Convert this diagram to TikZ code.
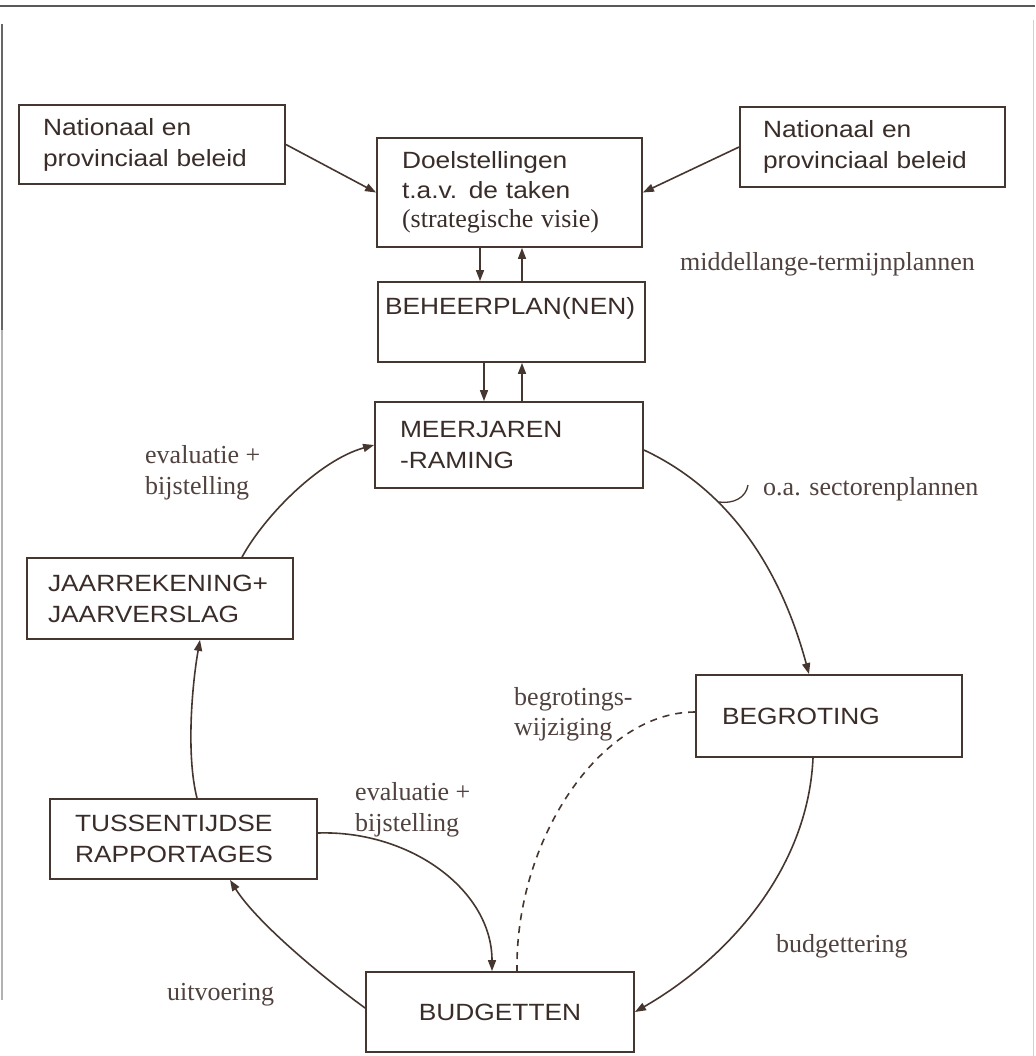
\documentclass[tikz,border=0pt]{standalone}
\usepackage{fontspec}
\setmainfont{Liberation Serif}
\newfontfamily\boxfont{Liberation Sans}[FakeStretch=1.12]
\usetikzlibrary{arrows.meta}
\definecolor{ink}{RGB}{70,54,48}
\definecolor{textink}{RGB}{58,45,41}
\definecolor{labelink}{RGB}{80,66,62}

\begin{document}
\begin{tikzpicture}[x=1pt,y=-1pt,
  box/.style={draw=ink, line width=1.8pt, rectangle, align=left, inner ysep=0pt,
    text=textink, font=\boxfont\fontsize{23.5}{31}\selectfont},
  lbl/.style={text=labelink, align=left, inner sep=0pt, font=\fontsize{26}{31}\selectfont},
  flow/.style={draw=ink, line width=1.6pt, -{Triangle[length=11pt,width=8pt]}},
  revision/.style={draw=ink, line width=1.6pt, dash pattern=on 7pt off 6pt},
]
\useasboundingbox (0,0) rectangle (1035,1056);

% page rules
\draw[line width=1.6pt, color=black!65] (0,6) -- (1035,6);
\draw[line width=1.6pt, color=black!60] (2,24) -- (2,330);
\draw[line width=1.2pt, color=black!30] (2,330) -- (2,1000);
\draw[line width=1pt, color=black!18] (1033,20) -- (1033,1056);

% boxes
\node[box, text width=218pt, inner xsep=24pt, minimum height=79pt] (natL) at (152,144.5)
  {Nationaal en\\provinciaal beleid};
\node[box, text width=219pt, inner xsep=23pt, minimum height=80pt] (natR) at (872.5,147)
  {Nationaal en\\provinciaal beleid};
\node[box, text width=215pt, inner xsep=25pt, minimum height=109pt,
  font=\boxfont\fontsize{23.5}{29.5}\selectfont] (doel) at (509.5,192.5)
  {Doelstellingen\\t.a.v. de taken\\{\rmfamily\fontsize{26}{28}\selectfont(strategische visie)}};
\node[box, text width=253pt, inner xsep=7pt, minimum height=80pt,
  text height=17pt, text depth=33pt] (beheer) at (511.5,322)
  {BEHEERPLAN(NEN)};
\node[box, text width=218pt, inner xsep=25pt, minimum height=86pt] (meer) at (509,445)
  {MEERJAREN\\-RAMING};
\node[box, text width=224pt, inner xsep=21pt, minimum height=81pt] (jaar) at (160,598.5)
  {JAARREKENING+\\JAARVERSLAG};
\node[box, text width=217pt, inner xsep=25pt, minimum height=80pt] (tuss) at (183.5,839)
  {TUSSENTIJDSE\\RAPPORTAGES};
\node[box, text width=218pt, inner xsep=25pt, minimum height=80pt, align=center] (budget) at (500,1012)
  {BUDGETTEN};
\node[box, text width=214pt, inner xsep=26pt, minimum height=82pt] (begr) at (829,716)
  {BEGROTING};

% labels
\node[lbl, anchor=base west] (mtp) at (680,271) {middellange-termijnplannen};
\node[lbl, anchor=base west] (sect) at (763,495) {o.a. sectorenplannen};
\node[lbl, anchor=north west] (evalA) at (145,445) {evaluatie +\\bijstelling};
\node[lbl, anchor=north west] (evalB) at (355,782) {evaluatie +\\bijstelling};
\node[lbl, anchor=north west, font=\fontsize{26}{30}\selectfont] (wijz) at (514,687) {begrotings-\\wijziging};
\node[lbl, anchor=base west] (budg) at (776,952) {budgettering};
\node[lbl, anchor=base west] (uitv) at (167,1000) {uitvoering};

% policy inputs
\draw[flow] (natL.east) -- (doel.west);
\draw[flow] (natR.west) -- (doel.east);

% vertical exchanges
\draw[flow] ([xshift=-29.5pt]doel.south) -- ([xshift=-29.5pt]doel.south |- beheer.north);
\draw[flow] ([xshift=10.5pt]beheer.north) -- ([xshift=10.5pt]beheer.north |- doel.south);
\draw[flow] ([xshift=-27.5pt]beheer.south) -- ([xshift=-27.5pt]beheer.south |- meer.north);
\draw[flow] ([xshift=13pt]meer.north) -- ([xshift=13pt]meer.north |- beheer.south);

% planning cycle
\draw[flow] ([yshift=-5pt]meer.east) .. controls (740,495) and (785,585) .. ([xshift=-20pt]begr.north);
\draw[flow] ([xshift=-16pt]begr.south) .. controls (808,870) and (727,959) .. (budget.east);
\draw[flow] ([yshift=4pt]budget.west) .. controls (325,979) and (257,923) .. ([xshift=46.5pt]tuss.south);
\draw[flow] ([yshift=6pt]tuss.east) .. controls (410,830) and (492,890) .. ([xshift=-8pt]budget.north);
\draw[flow] ([xshift=13.5pt]tuss.north) .. controls (186,755) and (192,685) .. ([xshift=40pt]jaar.south);
\draw[flow] ([xshift=82pt]jaar.north) .. controls (265,515) and (320,460) .. (meer.west);
\draw[revision] ([yshift=4pt]begr.west) .. controls (600,712) and (515,840) .. ([xshift=17pt]budget.north);

% brace tick for the sector plans
\draw[draw=ink, line width=1.3pt] (719,502) .. controls (733,504) and (746,498) .. (748,485);
\end{tikzpicture}
\end{document}
